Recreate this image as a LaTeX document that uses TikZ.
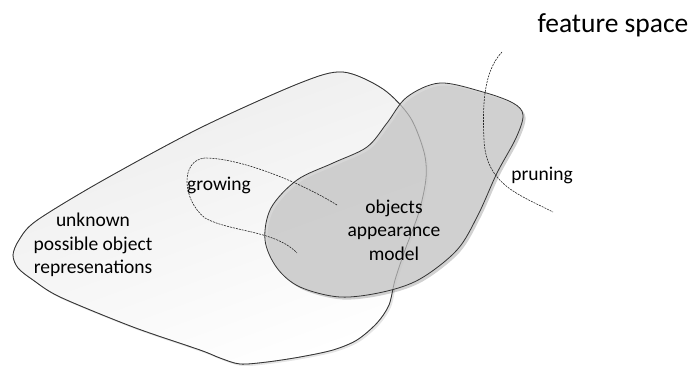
\documentclass[tikz,border=0pt]{standalone}
\usepackage{fontspec}
\setmainfont{Carlito}
\definecolor{outerdark}{RGB}{236,236,236}
\definecolor{innerfill}{RGB}{208,208,208}
\tikzset{
  label/.style={inner sep=0pt, align=center, font=\fontsize{19.5}{23.5}\selectfont},
  title/.style={inner sep=0pt, font=\fontsize{27.5}{32}\selectfont},
  outline/.style={draw=black!80, line width=0.8pt},
  trail/.style={draw=black!85, line width=0.6pt, dash pattern=on 2pt off 1pt}
}
\begin{document}
\begin{tikzpicture}[x=1pt,y=-1pt]
\useasboundingbox (0,0) rectangle (693,365);
% outer region
\def\outerpath{plot[smooth cycle, tension=0.5] coordinates {
 (13,255) (19,240) (36,221) (100,182) (200,128) (300,83) (343,72)
 (383,89) (410,117) (424,152) (426,178) (419,212) (405,250) (395,280)
 (389,305) (377,323) (357,340) (333,350) (300,357) (267,362) (240,364)
 (220,358) (200,350) (133,327) (60,297) (33,280) (18,268)}}
\fill[black, opacity=0.10, xshift=2pt, yshift=-2pt] \outerpath;
\shade[top color=outerdark, bottom color=white, shading angle=20] \outerpath;
% inner region
\def\innerpath{plot[smooth cycle, tension=0.55] coordinates {
 (297,180) (271,208) (265,240) (277,268) (300,287) (340,297) (383,292)
 (420,279) (457,250) (478,215) (497,173) (516,138) (523,115) (513,103)
 (483,92) (440,83) (407,97) (387,123) (367,147) (333,163)}}
\fill[black, opacity=0.18, xshift=2.5pt, yshift=-2.5pt] \innerpath;
\fill[innerfill, fill opacity=0.82] \innerpath;
\draw[outline] \innerpath;
\draw[outline, draw opacity=0.35] \outerpath;
\begin{scope}[even odd rule]
  \clip (0,0) rectangle (693,365) \innerpath;
  \draw[outline] \outerpath;
\end{scope}
% growing trail
\coordinate (g1) at (337,205);
\coordinate (g2) at (297,253);
\draw[trail] (g1) .. controls (300,182) and (240,158) .. (205,158)
  .. controls (180,160) and (182,200) .. (205,218)
  .. controls (230,232) and (275,230) .. (g2);
% pruning trail
\coordinate (p1) at (502,52);
\coordinate (p2) at (553,212);
\draw[trail] (p1) .. controls (485,70) and (482,100) .. (484,140)
  .. controls (486,185) and (520,195) .. (p2);
% labels
\node[title] (fs) at (613,25.5) {feature space};
\node[label] (unk) at (93,245) {unknown\\possible object\\represenations};
\node[label] (oam) at (394,230) {objects\\appearance\\model};
\node[label] (grow) at (219,185.5) {growing};
\node[label] (prune) at (542,175.5) {pruning};
\end{tikzpicture}
\end{document}
